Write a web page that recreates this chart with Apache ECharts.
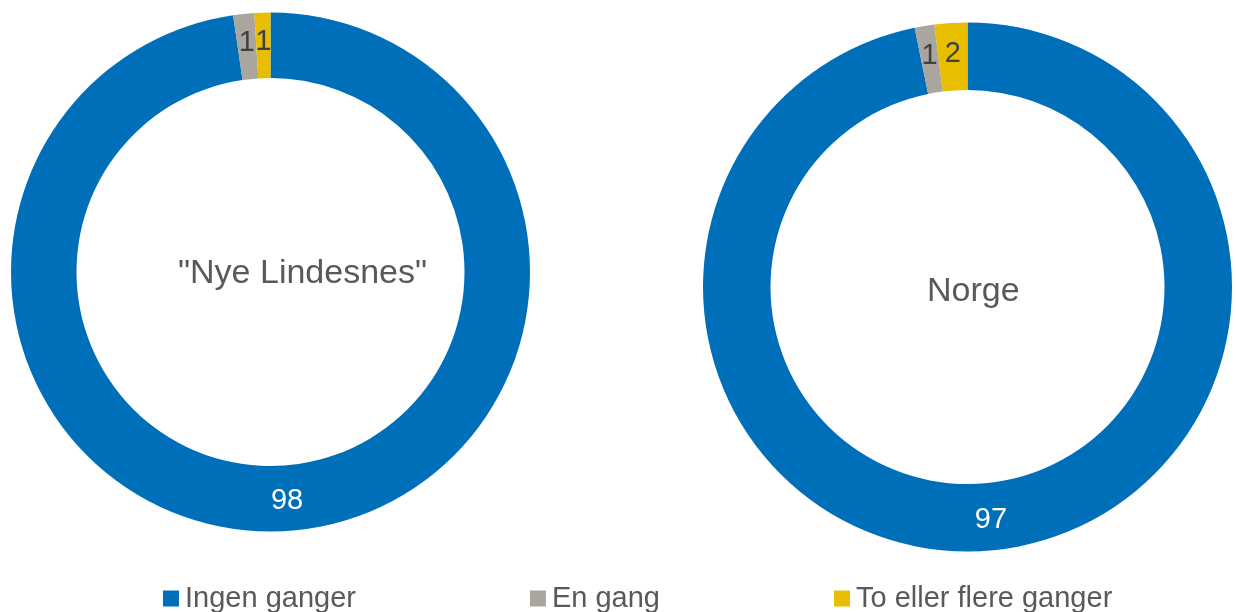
<!DOCTYPE html>
<html>
<head>
<meta charset="utf-8">
<script src="https://cdn.jsdelivr.net/npm/echarts@6/dist/echarts.min.js"></script>
<style>
  html, body { margin: 0; padding: 0; background: #fff; }
  #main { width: 1236px; height: 612px; }
</style>
</head>
<body>
<div id="main"></div>
<script>
// kategorier og verdier (prosent)
var categories = ['Ingen ganger', 'En gang', 'To eller flere ganger'];
var valuesLindesnes = [97.7, 1.3, 1.0];
var valuesNorge = [96.8, 1.2, 2.0];
var chartTitles = ['"Nye Lindesnes"', 'Norge'];

var colors = ['#006FBA', '#ABA59F', '#E8BE00'];
var labelColors = ['#ffffff', '#404040', '#404040'];
var fontFam = '"Liberation Sans", Arial, sans-serif';

var chart = echarts.init(document.getElementById('main'));

function makeData(vals) {
  return vals.map(function (v, i) {
    return {
      name: categories[i],
      value: v,
      itemStyle: { color: colors[i] },
      label: { color: labelColors[i] }
    };
  });
}

function makePie(vals, center, radius) {
  return {
    type: 'pie',
    center: center,
    radius: radius,
    startAngle: 90,
    clockwise: true,
    avoidLabelOverlap: false,
    silent: true,
    itemStyle: { borderWidth: 0 },
    label: {
      show: true,
      position: 'inside',
      fontFamily: fontFam,
      fontSize: 29,
      formatter: function (p) { return Math.round(p.value); }
    },
    labelLine: { show: false },
    data: makeData(vals)
  };
}

var option = {
  animation: false,
  backgroundColor: '#ffffff',
  legend: {
    data: categories,
    left: 158,
    top: 579,
    itemGap: 174,
    itemWidth: 16,
    itemHeight: 16,
    icon: 'rect',
    textStyle: { fontFamily: fontFam, fontSize: 29, color: '#595959', padding: [0, 0, 0, 1] }
  },
  graphic: [
    {
      type: 'text', left: 178, top: 257,
      style: { text: chartTitles[0], font: '34px ' + fontFam, fill: '#595959' }
    },
    {
      type: 'text', left: 927, top: 275,
      style: { text: chartTitles[1], font: '34px ' + fontFam, fill: '#595959' }
    }
  ],
  series: [
    makePie(valuesLindesnes, [270.5, 272], [194, 259.5]),
    makePie(valuesNorge, [967.5, 287], [197, 264.5])
  ]
};

chart.setOption(option);
</script>
</body>
</html>
